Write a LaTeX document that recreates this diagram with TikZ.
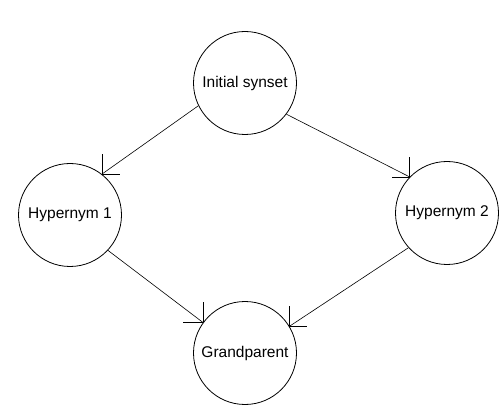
\documentclass[tikz,border=0pt]{standalone}
\usepackage{fontspec}
\setmainfont{Liberation Sans}
\begin{document}
\begin{tikzpicture}[x=1pt,y=-1pt,
  syn/.style={circle,draw,line width=0.8pt,minimum size=103pt,inner sep=0pt,font=\fontsize{15.5}{18}\selectfont},
  conn/.style={line width=0.6pt},
  arm/.style={line width=0.6pt}]
\useasboundingbox (0,0) rectangle (503,411);
\node[syn] (init) at (245,83) {Initial synset};
\node[syn] (h1) at (70,215) {Hypernym 1};
\node[syn] (h2) at (447,213) {Hypernym 2};
\node[syn] (gp) at (245,353) {Grandparent};
% connectors
\draw[conn] (init.206) -- (h1.52) coordinate (t1);
\draw[conn] (init.323) -- (h2.136) coordinate (t2);
\draw[conn] (h1.317) -- (gp.144) coordinate (t3);
\draw[conn] (h2.222) -- (gp.31) coordinate (t4);
% open axis-aligned arrowheads
\draw[arm] (t1) -- ++(0,-20) (t1) -- ++(18,0);
\draw[arm] (t2) -- ++(0,-20) (t2) -- ++(-18,0);
\draw[arm] (t3) -- ++(0,-20) (t3) -- ++(-20,0);
\draw[arm] (t4) -- ++(0,-20) (t4) -- ++(18,0);
\end{tikzpicture}
\end{document}
